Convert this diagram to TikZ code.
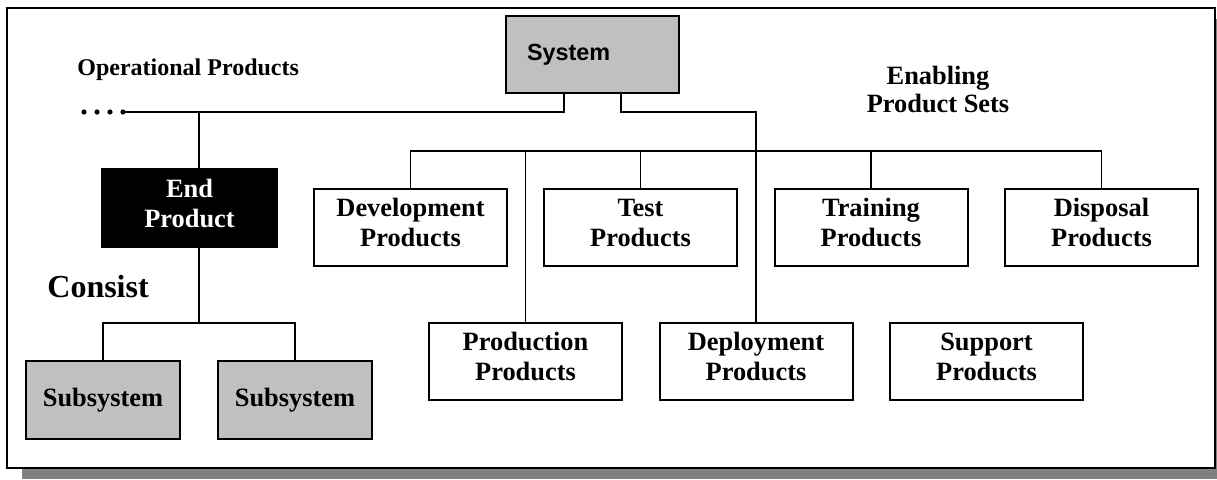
\documentclass[tikz,border=0pt]{standalone}
\usepackage{fontspec}
\setmainfont{Liberation Serif}
\newfontfamily\sysfont{Liberation Sans}
\definecolor{boxgray}{RGB}{192,192,192}
\definecolor{shadowgray}{RGB}{128,128,128}

\begin{document}
\begin{tikzpicture}[x=0.5pt,y=-0.5pt,
  prodbox/.style={draw,line width=1pt,minimum width=96.5pt,minimum height=38.5pt,
    inner sep=0pt,text depth=5pt,align=center,font=\fontsize{13.2}{15}\selectfont\bfseries},
  subbox/.style={prodbox,fill=boxgray,text depth=,minimum width=77pt,minimum height=39pt},
  endbox/.style={prodbox,fill=black,text=white,minimum width=87.5pt,minimum height=39pt},
  sysbox/.style={draw,line width=1pt,fill=boxgray,minimum height=38.5pt,inner xsep=10.5pt,
    text width=65.5pt,align=left,font=\fontsize{11.7}{14}\selectfont\sysfont\bfseries},
  link/.style={line width=0.8pt},
  heading/.style={inner sep=0pt,align=center,font=\fontsize{13.2}{14}\selectfont\bfseries}]
\useasboundingbox (0,0) rectangle (1217,479);
\fill[shadowgray] (22,19) rectangle (1217,479);
\draw[line width=1pt,fill=white] (7,8) rectangle (1215,468);

\node[sysbox] (sys) at (592.5,54.5) {System};
\node[endbox] (ep) at (189.5,208) {End\\Product};
\node[subbox] (sub1) at (103,400) {Subsystem};
\node[subbox] (sub2) at (295,400) {Subsystem};

\node[prodbox] (dev) at (410.5,227.5) {Development\\Products};
\node[prodbox] (test) at (640.5,227.5) {Test\\Products};
\node[prodbox] (train) at (871,227.5) {Training\\Products};
\node[prodbox] (disp) at (1101.5,227.5) {Disposal\\Products};
\node[prodbox] (prod) at (525.5,361.5) {Production\\Products};
\node[prodbox] (depl) at (756,361.5) {Deployment\\Products};
\node[prodbox] (supp) at (986.5,361.5) {Support\\Products};

\node[heading,anchor=west,font=\fontsize{12}{14}\selectfont\bfseries] (oper) at (77,70) {Operational Products};
\node[heading] (enab) at (938,89) {Enabling\\Product Sets};
\node[heading,anchor=west,font=\fontsize{16}{18}\selectfont\bfseries] (cons) at (47,287) {Consist};

\coordinate (opend) at (123,112);
\coordinate (opj) at (199,112);
\coordinate (bus) at (410.5,151);
\coordinate (subj) at (199,323);

\foreach \x in {84,97,110,123}
  \fill (\x,112) circle (1.3pt);
\draw[link] (sys.south -| 564,0) -- (564,112) -- (opend);
\draw[link] (opj) -- (opj |- ep.north);
\draw[link] (sys.south -| 621,0) -- (621,112) -| (depl.north);
\draw[link] (dev.north) -- (bus) -| (disp.north);
\foreach \n in {prod,test,train}
  \draw[link] (\n.north) -- (\n.north |- bus);
\draw[link] (opj |- ep.south) -- (subj);
\draw[link] (sub1.north) -- (sub1.north |- subj) -- (sub2.north |- subj) -- (sub2.north);
\end{tikzpicture}
\end{document}
